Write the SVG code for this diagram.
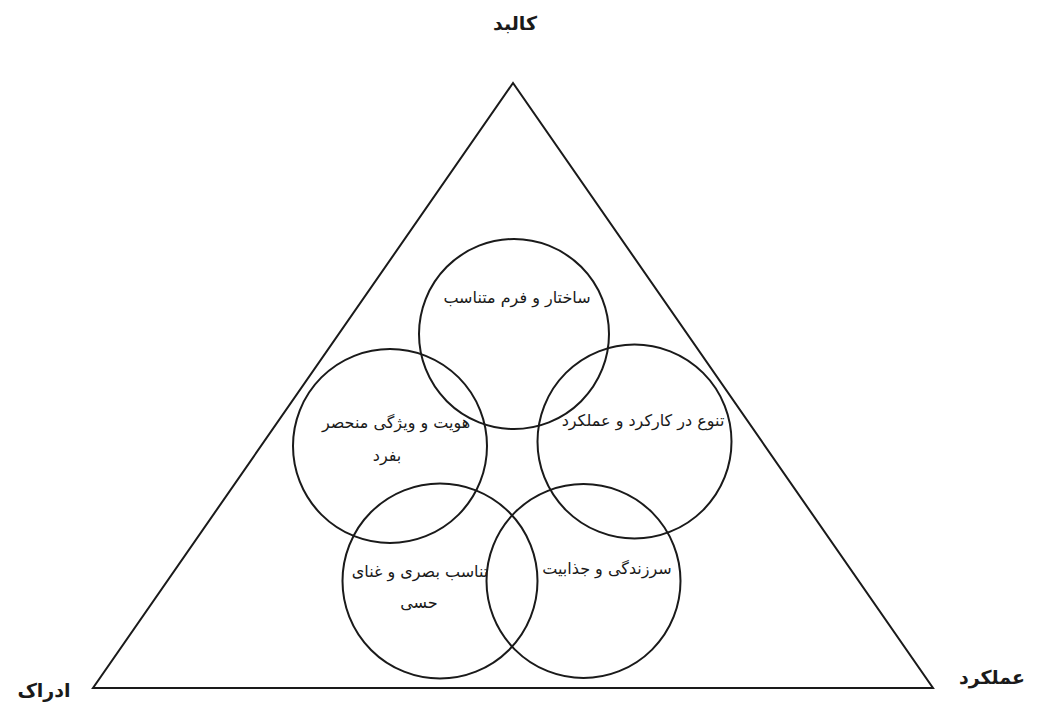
<svg xmlns="http://www.w3.org/2000/svg" width="1041" height="708" viewBox="0 0 1041 708">
<style>
.shape{fill:none;stroke:#1a1a1a;stroke-width:2}
.lbl{font-family:"DejaVu Sans",sans-serif;font-weight:bold;font-size:19px;fill:#1a1a1a;text-anchor:middle}
.txt{font-family:"DejaVu Sans",sans-serif;font-size:16px;fill:#1a1a1a;text-anchor:middle}
</style>
<rect width="1041" height="708" fill="#ffffff"/>
<g id="triangle">
<polygon class="shape" points="513,83 93,688 933,688"/>
</g>
<g id="label-kalbad"><text class="lbl" x="515" y="30" direction="rtl">کالبد</text></g>
<g id="label-edrak"><text class="lbl" x="44" y="697" direction="rtl">ادراک</text></g>
<g id="label-amalkard"><text class="lbl" x="992" y="684" direction="rtl">عملکرد</text></g>
<g id="node-top">
<circle class="shape" cx="514" cy="334" r="95"/>
<text class="txt" x="517" y="303" direction="rtl">ساختار و فرم متناسب</text>
</g>
<g id="node-left">
<circle class="shape" cx="390" cy="446" r="97"/>
<text class="txt" x="396" y="428" direction="rtl">هویت و ویژگی منحصر</text>
<text class="txt" x="387" y="461" direction="rtl">بفرد</text>
</g>
<g id="node-right">
<circle class="shape" cx="634.5" cy="441.5" r="97"/>
<text class="txt" x="643" y="426" direction="rtl">تنوع در کارکرد و عملکرد</text>
</g>
<g id="node-bottom-left">
<circle class="shape" cx="440" cy="581" r="97.5"/>
<text class="txt" x="420" y="577" direction="rtl">تناسب بصری و غنای</text>
<text class="txt" x="419" y="608" direction="rtl">حسی</text>
</g>
<g id="node-bottom-right">
<circle class="shape" cx="583.5" cy="581" r="97"/>
<text class="txt" x="607" y="574" direction="rtl">سرزندگی و جذابیت</text>
</g>
<g id="connectors"></g>
</svg>
